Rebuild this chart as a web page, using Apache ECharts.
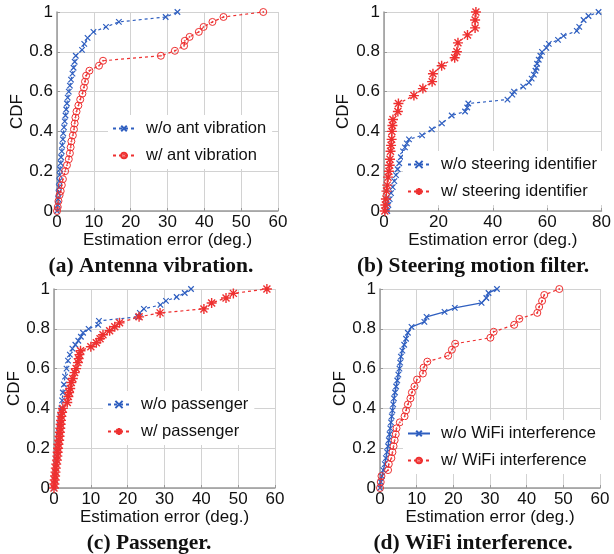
<!DOCTYPE html>
<html>
<head>
<meta charset="utf-8">
<title>CDF estimation error</title>
<script src="https://cdn.jsdelivr.net/npm/echarts@6/dist/echarts.min.js"></script>
<style>
  html, body { margin: 0; padding: 0; background: #fff; }
  #chart { width: 614px; height: 554px; }
</style>
</head>
<body>
<div id="chart"></div>
<script>
// (a) antenna vibration: [error, cdf]
var aNoVib = [[0,0],[0.2,0.03],[0.3,0.06],[0.4,0.09],[0.5,0.12],[0.6,0.15],[0.7,0.18],[0.8,0.21],[1.0,0.24],[1.1,0.27],[1.3,0.3],[1.4,0.33],[1.6,0.36],[1.7,0.39],[1.9,0.42],[2.1,0.45],[2.3,0.48],[2.5,0.51],[2.7,0.54],[2.9,0.57],[3.2,0.6],[3.5,0.63],[3.8,0.66],[4.2,0.69],[4.5,0.72],[4.8,0.75],[5.1,0.78],[6.8,0.81],[7.4,0.84],[8.3,0.87],[9.9,0.9],[13.3,0.925],[16.8,0.95],[29.5,0.975],[32.7,1.0]];
var aVib = [[0,0],[0.2,0.02],[0.4,0.05],[0.7,0.08],[1,0.1],[1.3,0.13],[1.6,0.16],[2.2,0.2],[2.7,0.23],[3.2,0.26],[3.5,0.29],[3.7,0.32],[3.9,0.35],[4.3,0.38],[4.6,0.41],[4.8,0.44],[5,0.47],[5.3,0.5],[5.8,0.53],[6.3,0.56],[6.9,0.59],[7.3,0.62],[7.6,0.65],[7.9,0.68],[8.8,0.705],[11.4,0.73],[12.5,0.755],[28.2,0.78],[32,0.805],[34.5,0.83],[34.7,0.855],[36,0.875],[38.5,0.9],[39.8,0.925],[42.2,0.95],[45.2,0.975],[56,1]];
// (b) steering motion filter
var bNoSteer = [[1.2,0],[1.6,0.03],[2.1,0.06],[2.6,0.09],[3.2,0.12],[3.8,0.15],[4.4,0.18],[5,0.21],[5.6,0.24],[6.2,0.27],[7,0.3],[7.7,0.32],[8.4,0.34],[9.2,0.36],[14,0.38],[17.6,0.41],[21.3,0.44],[24.9,0.48],[29.8,0.5],[30.6,0.52],[31,0.54],[45.4,0.56],[47.2,0.585],[47.8,0.6],[51.2,0.625],[53.3,0.645],[54.3,0.665],[55.1,0.685],[55.7,0.705],[56.1,0.72],[56.3,0.74],[56.9,0.76],[57.5,0.78],[58.1,0.8],[59.7,0.82],[60.6,0.84],[64,0.86],[66,0.88],[70.9,0.905],[71.8,0.925],[73.4,0.96],[75.2,0.98],[78.9,1]];
var bSteer = [[0.3,0],[0.5,0.03],[0.7,0.06],[0.9,0.1],[1.2,0.13],[1.5,0.17],[1.8,0.2],[2.1,0.23],[2.2,0.26],[2.4,0.3],[2.6,0.33],[2.8,0.36],[2.9,0.4],[3.1,0.43],[3.3,0.46],[5.1,0.5],[5.3,0.54],[11,0.58],[14.3,0.615],[17.7,0.65],[18,0.69],[21.2,0.73],[26,0.77],[26.8,0.8],[27.2,0.845],[30.7,0.885],[33.5,0.92],[33.5,0.96],[33.8,1]];
// (c) passenger
var cNoPass = [[0,0],[0.2,0.04],[0.4,0.08],[0.6,0.12],[0.8,0.16],[1,0.2],[1.2,0.24],[1.3,0.28],[1.5,0.32],[1.7,0.36],[2,0.4],[2.2,0.44],[2.4,0.48],[2.7,0.52],[3,0.56],[3.4,0.6],[3.8,0.64],[4.3,0.67],[5,0.7],[5.8,0.72],[6.6,0.74],[7.3,0.76],[7.9,0.78],[9.4,0.8],[12,0.82],[12.2,0.84],[22.8,0.86],[23.3,0.88],[24.4,0.9],[28.9,0.92],[30.4,0.94],[33.3,0.96],[35.5,0.98],[37.2,1]];
var cPass = [[0,0],[0.1,0.02],[0.2,0.04],[0.3,0.06],[0.4,0.08],[0.5,0.1],[0.6,0.12],[0.8,0.14],[0.9,0.16],[1,0.18],[1.1,0.2],[1.2,0.22],[1.4,0.24],[1.5,0.26],[1.6,0.28],[1.7,0.3],[1.8,0.32],[1.9,0.34],[2,0.36],[2.2,0.38],[2.4,0.4],[3.6,0.43],[3.9,0.46],[4.1,0.48],[4.4,0.5],[4.7,0.53],[5.1,0.55],[5.6,0.58],[6,0.6],[6.5,0.63],[6.7,0.65],[6.9,0.67],[7.2,0.69],[10,0.71],[11.5,0.73],[12.5,0.75],[13.3,0.77],[15.1,0.79],[16.5,0.81],[17.8,0.83],[23.1,0.86],[28.8,0.88],[40.7,0.9],[42.8,0.93],[46.7,0.955],[48.7,0.978],[57.8,1]];
// (d) WiFi interference
var dNoWifi = [[0,0],[0.2,0.03],[0.5,0.06],[0.9,0.09],[1.3,0.12],[1.6,0.15],[1.9,0.18],[2.2,0.21],[2.4,0.24],[2.6,0.27],[2.8,0.3],[3,0.33],[3.2,0.36],[3.4,0.39],[3.6,0.42],[3.8,0.45],[4.1,0.48],[4.4,0.51],[4.7,0.54],[5,0.57],[5.3,0.6],[5.5,0.63],[5.7,0.66],[6.1,0.69],[6.6,0.72],[7.1,0.75],[7.6,0.78],[8.6,0.81],[12.1,0.835],[12.7,0.86],[17.6,0.885],[20.4,0.905],[27.7,0.93],[29,0.955],[29.6,0.98],[31.9,1]];
var dWifi = [[0,0],[0.2,0.03],[0.4,0.06],[2.2,0.09],[2.4,0.12],[3.1,0.15],[3.4,0.18],[3.7,0.21],[4,0.24],[4.3,0.27],[4.5,0.3],[5.4,0.33],[6.7,0.36],[7.1,0.39],[7.6,0.42],[8.3,0.45],[8.7,0.48],[9.4,0.51],[10.1,0.545],[11.7,0.575],[11.9,0.605],[12.9,0.635],[18.6,0.665],[19.6,0.695],[20.5,0.725],[30.1,0.755],[31,0.785],[36.6,0.82],[38,0.85],[42.9,0.88],[43.4,0.91],[44.2,0.94],[44.8,0.97],[48.9,1]];

var captions = ['(a) Antenna vibration.', '(b) Steering motion filter.', '(c) Passenger.', '(d) WiFi interference.'];
var xMax = [60, 80, 60, 60];
var xStep = [10, 20, 10, 10];
var yTicks = [0, 0.2, 0.4, 0.6, 0.8, 1];

var BLUE = '#2f5fc0';
var RED = '#ee3030';
var SANS = 'Liberation Sans';

var SYM_X = 'path://M0,0L10,10M10,0L0,10';
var SYM_STAR = 'path://M5,0L5,10M0,5L10,5M1.5,1.5L8.5,8.5M8.5,1.5L1.5,8.5';
var SYM_DOT = 'path://M5,0A5,5 0 1,1 5,10A5,5 0 1,1 5,0ZM5,4.2A0.8,0.8 0 1,1 5,5.8A0.8,0.8 0 1,1 5,4.2Z';

// plot boxes [left, top, width, height]
var boxes = [[57, 12, 221, 199], [384, 12, 219, 199], [54, 289, 221, 199], [380, 289, 220, 199]];
var legendPos = [[108, 115], [403, 151], [103, 391], [403, 420]];
var legendSym = [7, 9, 9, 7];
var yNameGap = [29, 32, 29, 30];
var captionPos = [[146, 250], [468, 250], [144, 527], [468, 527]];

var grids = [], xAxes = [], yAxes = [], titles = [], legends = [];
boxes.forEach(function (b, i) {
    grids.push({ left: b[0], top: b[1], width: b[2], height: b[3] });
    xAxes.push({
        type: 'value', gridIndex: i, min: 0, max: xMax[i], interval: xStep[i],
        name: 'Estimation error (deg.)', nameLocation: 'middle', nameGap: 16,
        nameTextStyle: { fontFamily: SANS, fontSize: 17, color: '#111' },
        axisLine: { show: true, lineStyle: { color: '#999', width: 1.5 } },
        axisTick: { show: true, inside: true, length: 3, lineStyle: { color: '#999' } },
        axisLabel: { fontFamily: SANS, fontSize: 17, color: '#111', margin: 3 },
        splitLine: { show: true, lineStyle: { color: '#d2d2d2', width: 1 } }
    });
    yAxes.push({
        type: 'value', gridIndex: i, min: 0, max: 1, interval: 0.2,
        name: 'CDF', nameLocation: 'middle', nameGap: yNameGap[i], nameRotate: 90,
        nameTextStyle: { fontFamily: SANS, fontSize: 17, color: '#111' },
        axisLine: { show: true, lineStyle: { color: '#999', width: 1.5 } },
        axisTick: { show: true, inside: true, length: 3, lineStyle: { color: '#999' } },
        axisLabel: {
            fontFamily: SANS, fontSize: 17, color: '#111', margin: 4,
            formatter: function (v) { return (v === 0 || v === 1) ? String(v) : v.toFixed(1); }
        },
        splitLine: { show: true, lineStyle: { color: '#d2d2d2', width: 1 } }
    });
    titles.push({
        text: captions[i], left: captionPos[i][0], top: captionPos[i][1], textAlign: 'center',
        textStyle: { fontFamily: 'Liberation Serif', fontWeight: 'bold', fontSize: 21.5, color: '#111' }
    });
});

function mk(name, idx, data, color, symbol, size, dashed, bw) {
    return {
        name: name, type: 'line', xAxisIndex: idx, yAxisIndex: idx, data: data,
        symbol: symbol, symbolSize: size, showAllSymbol: true, clip: false,
        lineStyle: { color: color, width: dashed ? 1.2 : 1.4, type: dashed ? [3, 3] : 'solid' },
        itemStyle: { color: 'rgba(0,0,0,0)', borderColor: color, borderWidth: bw },
        emphasis: { disabled: true },
        animation: false
    };
}

var series = [
    mk('w/o ant vibration', 0, aNoVib, BLUE, SYM_X, 5.5, true, 1.2),
    mk('w/ ant vibration', 0, aVib, RED, SYM_DOT, 7, true, 1),
    mk('w/o steering identifier', 1, bNoSteer, BLUE, SYM_X, 5.5, true, 1.2),
    mk('w/ steering identifier', 1, bSteer, RED, SYM_STAR, 10, true, 1.4),
    mk('w/o passenger', 2, cNoPass, BLUE, SYM_X, 5.5, true, 1.2),
    mk('w/ passenger', 2, cPass, RED, SYM_STAR, 10, true, 1.4),
    mk('w/o WiFi interference', 3, dNoWifi, BLUE, SYM_X, 5.5, false, 1.2),
    mk('w/ WiFi interference', 3, dWifi, RED, SYM_DOT, 7, true, 1)
];

for (var i = 0; i < 4; i++) {
    legends.push({
        orient: 'vertical', left: legendPos[i][0], top: legendPos[i][1],
        data: [series[2 * i].name, series[2 * i + 1].name],
        backgroundColor: '#fff', padding: [5, 6, 5, 4],
        itemWidth: 22, itemHeight: legendSym[i], itemGap: 10,
        selectedMode: false,
        textStyle: { fontFamily: SANS, fontSize: 16.5, color: '#111', padding: [0, 0, 0, 6] }
    });
}

var chart = echarts.init(document.getElementById('chart'), null, { renderer: 'canvas' });
chart.setOption({
    backgroundColor: '#fff',
    animation: false,
    title: titles,
    legend: legends,
    grid: grids,
    xAxis: xAxes,
    yAxis: yAxes,
    series: series
});
</script>
</body>
</html>
